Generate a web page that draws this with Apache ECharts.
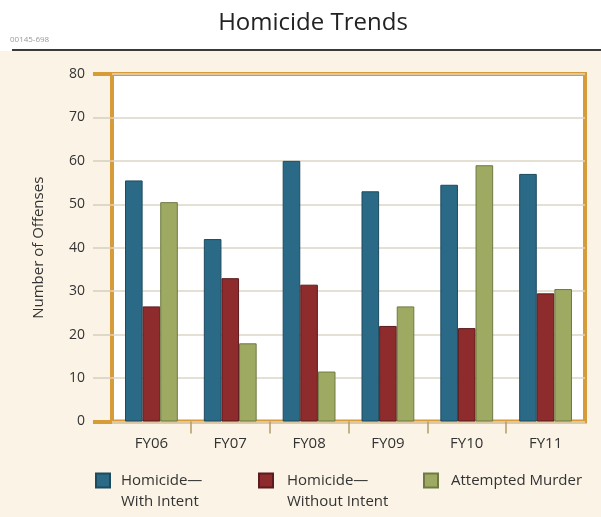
<!DOCTYPE html>
<html>
<head>
<meta charset="utf-8">
<script src="https://cdn.jsdelivr.net/npm/echarts@6/dist/echarts.min.js"></script>
<style>
html,body{margin:0;padding:0;background:#fff;}
#chart{width:601px;height:517px;}
</style>
</head>
<body>
<div id="chart"></div>
<script>
const categories = ['FY06', 'FY07', 'FY08', 'FY09', 'FY10', 'FY11'];
const seriesNames = ['Homicide—With Intent', 'Homicide—Without Intent', 'Attempted Murder'];
const withIntent = [55.5, 42, 60, 53, 54.5, 57];
const withoutIntent = [26.5, 33, 31.5, 22, 21.5, 29.5];
const attemptedMurder = [50.5, 18, 11.5, 26.5, 59, 30.5];
const yMin = 0, yMax = 80, yStep = 10;

const FONT = '"Open Sans", sans-serif';
const ORANGE = '#d89b3a';
const colors = ['#2b6a86', '#8d2b2d', '#9eaa61'];
const borders = ['#1d4a5e', '#5c1b1d', '#6e7a42'];

const chart = echarts.init(document.getElementById('chart'));

function legendFor(i, left, padLeft, twoLine) {
  return {
    left: left, top: twoLine ? 449 : 470, padding: 0,
    itemWidth: 14, itemHeight: 14, icon: 'rect',
    data: [seriesNames[i]],
    formatter: function (n) { return twoLine ? '\n' + n.replace('—', '—\n') : n; },
    textStyle: {
      fontFamily: FONT, fontSize: 15, color: '#333',
      lineHeight: 21,
      padding: [0, 0, 0, padLeft]
    },
    selectedMode: false
  };
}

const dataSets = [withIntent, withoutIntent, attemptedMurder];

chart.setOption({
  backgroundColor: '#ffffff',
  animation: false,
  graphic: [
    { type: 'rect', z: -10, shape: { x: 0, y: 51, width: 601, height: 466 }, style: { fill: '#fbf3e6' } },
    { type: 'line', shape: { x1: 12, y1: 50, x2: 601, y2: 50 }, style: { stroke: '#3a3a3a', lineWidth: 2 } },
    { type: 'text', x: 313, y: 23, style: { text: 'Homicide Trends', font: '24px ' + FONT, fill: '#222', align: 'center', verticalAlign: 'middle' } },
    { type: 'text', x: 10, y: 40, style: { text: '00145-698', font: '8px ' + FONT, fill: '#9a9a9a', align: 'left', verticalAlign: 'middle' } }
  ],
  grid: {
    left: 112, right: 16, top: 74, bottom: 95.5,
    show: true, backgroundColor: '#ffffff', borderColor: ORANGE, borderWidth: 4
  },
  legend: [
    legendFor(0, 95, 6, true),
    legendFor(1, 258, 9, true),
    legendFor(2, 423, 8, false)
  ],
  xAxis: [{
    type: 'category', data: categories,
    axisLine: { show: false },
    axisTick: { show: false },
    axisLabel: { fontFamily: FONT, fontSize: 15, color: '#333', margin: 15 }
  }, {
    type: 'value', min: 0, max: 6, position: 'bottom',
    axisLine: { show: false },
    axisLabel: { show: false },
    splitLine: { show: false },
    axisTick: { show: true, customValues: [1, 2, 3, 4, 5], length: 12, lineStyle: { color: '#b59a6a', width: 1.5 } }
  }],
  yAxis: [{
    type: 'value', min: yMin, max: yMax, interval: yStep,
    name: 'Number of Offenses', nameLocation: 'middle', nameGap: 66,
    nameTextStyle: { fontFamily: FONT, fontSize: 15, color: '#333' },
    axisLine: { show: false },
    axisTick: { show: true, length: 19, lineStyle: { color: '#d6d0c0', width: 1.5 } },
    axisLabel: { fontFamily: FONT, fontSize: 14, color: '#333', margin: 27 },
    splitLine: { show: true, lineStyle: { color: '#dcd6c6', width: 1.5 } }
  }, {
    type: 'value', min: yMin, max: yMax, interval: yMax, position: 'left',
    axisLine: { show: false },
    axisLabel: { show: false },
    splitLine: { show: false },
    axisTick: { show: true, length: 19, lineStyle: { color: ORANGE, width: 4 } }
  }],
  series: dataSets.map(function (d, i) {
    return {
      name: seriesNames[i], type: 'bar', data: d,
      xAxisIndex: 0, yAxisIndex: 0,
      barGap: '0%', barCategoryGap: '33%',
      itemStyle: { color: colors[i], borderColor: borders[i], borderWidth: 1 }
    };
  })
});
</script>
</body>
</html>
